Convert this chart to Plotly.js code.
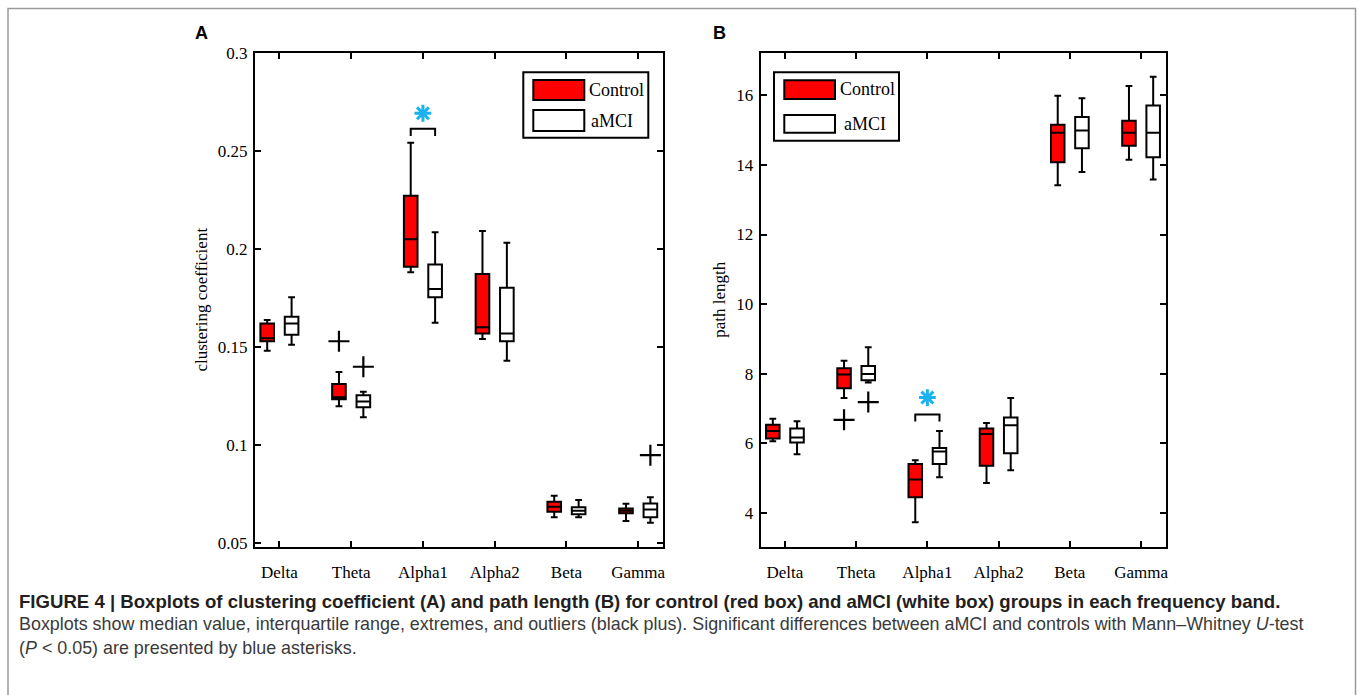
<!DOCTYPE html>
<html>
<head>
<meta charset="utf-8">
<script src="https://cdn.plot.ly/plotly-3.0.1.min.js"></script>
<style>
  html, body { margin: 0; padding: 0; background: #fff; }
  #chart { width: 1358px; height: 695px; }
</style>
</head>
<body>
<div id="chart"></div>
<script>
// ---------------- DATA ----------------
const bands = ['Delta', 'Theta', 'Alpha1', 'Alpha2', 'Beta', 'Gamma'];

// Panel A: clustering coefficient
const ccCtrlLow  = [0.1480, 0.1197, 0.1880, 0.1539, 0.0630, 0.0611];
const ccCtrlQ1   = [0.1528, 0.1232, 0.1908, 0.1568, 0.0658, 0.0650];
const ccCtrlMed  = [0.1543, 0.1242, 0.2049, 0.1599, 0.0684, 0.0663];
const ccCtrlQ3   = [0.1619, 0.1310, 0.2270, 0.1871, 0.0709, 0.0675];
const ccCtrlHigh = [0.1636, 0.1371, 0.2541, 0.2090, 0.0740, 0.0699];

const ccMciLow  = [0.1510, 0.1140, 0.1622, 0.1429, 0.0630, 0.0602];
const ccMciQ1   = [0.1561, 0.1191, 0.1752, 0.1528, 0.0646, 0.0630];
const ccMciMed  = [0.1619, 0.1221, 0.1794, 0.1568, 0.0663, 0.0670];
const ccMciQ3   = [0.1653, 0.1252, 0.1920, 0.1801, 0.0681, 0.0701];
const ccMciHigh = [0.1752, 0.1270, 0.2084, 0.2031, 0.0718, 0.0732];

const ccCtrlOutBand = ['Theta'];
const ccCtrlOutVal  = [0.1528];
const ccMciOutBand  = ['Theta', 'Gamma'];
const ccMciOutVal   = [0.1398, 0.0947];

const ccSigBand = ['Alpha1'];
const ccSigBracketTop = [0.2612];
const ccSigBracketLeg = [0.2575];
const ccSigStar = [0.2691];

const ccTickVals = [0.05, 0.1, 0.15, 0.2, 0.25, 0.3];
const ccTickText = ['0.05', '0.1', '0.15', '0.2', '0.25', '0.3'];

// Panel B: path length
const plCtrlLow  = [6.05, 7.30, 3.72, 4.85, 13.42, 14.15];
const plCtrlQ1   = [6.13, 7.58, 4.44, 5.35, 14.08, 14.55];
const plCtrlMed  = [6.35, 7.97, 4.95, 6.26, 14.93, 14.93];
const plCtrlQ3   = [6.53, 8.15, 5.40, 6.42, 15.16, 15.27];
const plCtrlHigh = [6.70, 8.37, 5.51, 6.58, 15.99, 16.27];

const plMciLow  = [5.68, 7.74, 5.02, 5.22, 13.80, 13.58];
const plMciQ1   = [6.02, 7.81, 5.40, 5.71, 14.48, 14.22];
const plMciMed  = [6.16, 7.99, 5.76, 6.51, 14.99, 14.93];
const plMciQ3   = [6.42, 8.22, 5.86, 6.74, 15.38, 15.71];
const plMciHigh = [6.63, 8.76, 6.35, 7.30, 15.92, 16.54];

const plCtrlOutBand = ['Theta'];
const plCtrlOutVal  = [6.67];
const plMciOutBand  = ['Theta'];
const plMciOutVal   = [7.18];

const plSigBand = ['Alpha1'];
const plSigBracketTop = [6.82];
const plSigBracketLeg = [6.62];
const plSigStar = [7.31];

const plTickVals = [4, 6, 8, 10, 12, 14, 16];
const plTickText = ['4', '6', '8', '10', '12', '14', '16'];

const groupNames = ['Control', 'aMCI'];

// ---------------- STYLE / LAYOUT HELPERS ----------------
const W = 1358, H = 695;
const px = x => x / W;
const py = y => 1 - y / H;
const OFF = 0.17, BOXW = 0.19;
const RED = 'rgb(255,0,0)';
const STAR = '#1ab2ef';
const SERIF = 'Liberation Serif, Times New Roman, serif';
const SANS = 'Liberation Sans, Arial, Helvetica, sans-serif';
const bandIdx = b => bands.indexOf(b);

function boxTrace(xa, ya, name, sign, low, q1, med, q3, high, fill) {
  return {
    type: 'box', xaxis: xa, yaxis: ya, name: name, showlegend: false,
    x: bands.map((b, i) => i + sign * OFF),
    lowerfence: low, q1: q1, median: med, q3: q3, upperfence: high,
    width: BOXW, whiskerwidth: 0.5, boxpoints: false,
    fillcolor: fill, line: { color: '#000', width: 2 },
    hoverinfo: 'skip'
  };
}
function outTrace(xa, ya, sign, bandsArr, vals) {
  return {
    type: 'scatter', mode: 'markers', xaxis: xa, yaxis: ya, showlegend: false,
    x: bandsArr.map(b => bandIdx(b) + sign * OFF), y: vals,
    marker: { symbol: 'cross-thin-open', size: 15, color: '#000', line: { color: '#000', width: 2.2 } },
    hoverinfo: 'skip'
  };
}
function sigTraces(xa, ya, sigBand, top, leg, star) {
  const tr = [];
  sigBand.forEach((b, k) => {
    const i = bandIdx(b);
    tr.push({
      type: 'scatter', mode: 'lines', xaxis: xa, yaxis: ya, showlegend: false,
      x: [i - OFF, i - OFF, i + OFF, i + OFF],
      y: [leg[k], top[k], top[k], leg[k]],
      line: { color: '#000', width: 2 }, hoverinfo: 'skip'
    });
    tr.push({
      type: 'scatter', mode: 'markers', xaxis: xa, yaxis: ya, showlegend: false,
      x: [i], y: [star[k]],
      marker: { symbol: 'asterisk-open', size: 14, color: STAR, line: { color: STAR, width: 3 } },
      hoverinfo: 'skip'
    });
  });
  return tr;
}

const traces = [
  boxTrace('x', 'y', groupNames[0], -1, ccCtrlLow, ccCtrlQ1, ccCtrlMed, ccCtrlQ3, ccCtrlHigh, RED),
  boxTrace('x', 'y', groupNames[1], +1, ccMciLow, ccMciQ1, ccMciMed, ccMciQ3, ccMciHigh, '#fff'),
  outTrace('x', 'y', -1, ccCtrlOutBand, ccCtrlOutVal),
  outTrace('x', 'y', +1, ccMciOutBand, ccMciOutVal),
  ...sigTraces('x', 'y', ccSigBand, ccSigBracketTop, ccSigBracketLeg, ccSigStar),
  boxTrace('x2', 'y2', groupNames[0], -1, plCtrlLow, plCtrlQ1, plCtrlMed, plCtrlQ3, plCtrlHigh, RED),
  boxTrace('x2', 'y2', groupNames[1], +1, plMciLow, plMciQ1, plMciMed, plMciQ3, plMciHigh, '#fff'),
  outTrace('x2', 'y2', -1, plCtrlOutBand, plCtrlOutVal),
  outTrace('x2', 'y2', +1, plMciOutBand, plMciOutVal),
  ...sigTraces('x2', 'y2', plSigBand, plSigBracketTop, plSigBracketLeg, plSigStar)
];

const tickFont = { family: SERIF, size: 17, color: '#000' };
function xAxis(domain, anchor) {
  return {
    domain: domain, anchor: anchor, range: [-0.34, 5.35],
    tickvals: bands.map((b, i) => i), ticktext: bands,
    ticks: 'inside', ticklen: 6, tickwidth: 2, tickcolor: '#000',
    showline: true, linewidth: 2, linecolor: '#000', mirror: 'ticks',
    showgrid: false, zeroline: false, tickfont: tickFont, ticklabelstandoff: 9
  };
}
function yAxis(domain, anchor, range, tv, tt, title, standoff) {
  return {
    domain: domain, anchor: anchor, range: range,
    tickvals: tv, ticktext: tt,
    ticks: 'inside', ticklen: 6, tickwidth: 2, tickcolor: '#000',
    showline: true, linewidth: 2, linecolor: '#000', mirror: 'ticks',
    showgrid: false, zeroline: false, tickfont: tickFont, ticklabelstandoff: 2,
    title: { text: title, font: { family: SERIF, size: 17, color: '#000' }, standoff: standoff }
  };
}

const yDom = [py(546.7), py(52.7)];
const shapes = [
  // outer figure frame
  { type: 'rect', xref: 'paper', yref: 'paper', x0: px(8), x1: px(1355.5), y0: py(705), y1: py(8.5),
    line: { color: '#9a9a9a', width: 1.5 }, fillcolor: 'rgba(0,0,0,0)', layer: 'below' }
];
const annotations = [];

function legend(bx0, bx1, by0, by1, patchX0, patchX1, redY, whiteY, textX, textY) {
  shapes.push({ type: 'rect', xref: 'paper', yref: 'paper', x0: px(bx0), x1: px(bx1), y0: py(by1), y1: py(by0),
    line: { color: '#000', width: 2 }, fillcolor: '#fff' });
  shapes.push({ type: 'rect', xref: 'paper', yref: 'paper', x0: px(patchX0), x1: px(patchX1), y0: py(redY[1]), y1: py(redY[0]),
    line: { color: '#000', width: 2 }, fillcolor: RED });
  shapes.push({ type: 'rect', xref: 'paper', yref: 'paper', x0: px(patchX0), x1: px(patchX1), y0: py(whiteY[1]), y1: py(whiteY[0]),
    line: { color: '#000', width: 2 }, fillcolor: '#fff' });
  groupNames.forEach((g, k) => {
    annotations.push({ xref: 'paper', yref: 'paper', x: px(textX[k]), y: py(textY[k]), xanchor: 'left', yanchor: 'middle',
      text: g, showarrow: false, font: { family: SERIF, size: 18, color: '#000' } });
  });
}
legend(523.3, 648.3, 72.3, 137.7, 533.3, 584.3, [80, 100], [110, 131], [587, 589], [90, 121]);
legend(774, 899, 72.3, 140.7, 784.3, 835, [80.3, 99], [115, 132.7], [838, 842], [89, 124]);

// panel letters
annotations.push({ xref: 'paper', yref: 'paper', x: px(201), y: py(33), xanchor: 'center', yanchor: 'middle',
  text: '<b>A</b>', showarrow: false, font: { family: SANS, size: 18, color: '#000' } });
annotations.push({ xref: 'paper', yref: 'paper', x: px(719), y: py(33), xanchor: 'center', yanchor: 'middle',
  text: '<b>B</b>', showarrow: false, font: { family: SANS, size: 18, color: '#000' } });

// caption
const captionLines = [
  { text: '<b>FIGURE 4 | Boxplots of clustering coefficient (A) and path length (B) for control (red box) and aMCI (white box) groups in each frequency band.</b>', y: 601, color: '#231f20', size: 18.6 },
  { text: 'Boxplots show median value, interquartile range, extremes, and outliers (black plus). Significant differences between aMCI and controls with Mann–Whitney <i>U</i>-test', y: 624, color: '#3a3a3a', size: 17.9 },
  { text: '(<i>P</i> < 0.05) are presented by blue asterisks.', y: 648, color: '#3a3a3a', size: 17.9 }
];
captionLines.forEach(c => annotations.push({ xref: 'paper', yref: 'paper', x: px(17), y: py(c.y), xanchor: 'left', yanchor: 'middle',
  text: c.text, showarrow: false, font: { family: SANS, size: c.size, color: c.color } }));

const layout = {
  width: W, height: H, margin: { l: 0, r: 0, t: 0, b: 0 },
  paper_bgcolor: '#fff', plot_bgcolor: '#fff',
  showlegend: false, boxmode: 'overlay',
  xaxis: xAxis([px(255), px(663.3)], 'y'),
  yaxis: yAxis(yDom, 'x', [0.048, 0.3], ccTickVals, ccTickText, 'clustering coefficient', 6),
  xaxis2: xAxis([px(760.7), px(1166)], 'y2'),
  yaxis2: yAxis(yDom, 'x2', [3.02, 17.23], plTickVals, plTickText, 'path length', 6),
  shapes: shapes, annotations: annotations
};

Plotly.newPlot('chart', traces, layout, { staticPlot: true, displayModeBar: false });
</script>
</body>
</html>
